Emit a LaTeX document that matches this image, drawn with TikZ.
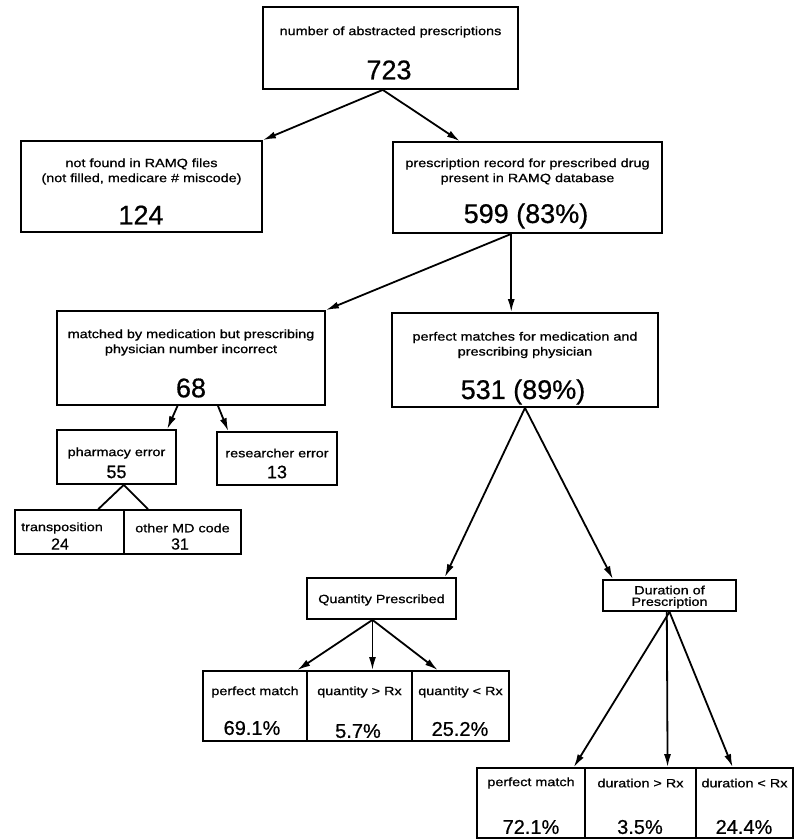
\documentclass[tikz,border=0pt]{standalone}
\usepackage{fontspec}
\usetikzlibrary{arrows.meta,calc}
\newfontfamily\lblfont[FakeStretch=1.2,FakeBold=0.8]{Liberation Sans}
\newfontfamily\numfont[FakeBold=0.6]{Liberation Sans}
\tikzset{
  box/.style={draw, line width=1.8pt, inner sep=0pt},
  lab/.style={font=\lblfont\fontsize{12}{15}\selectfont, inner sep=0pt, align=center},
  labtight/.style={font=\lblfont\fontsize{12}{11.5}\selectfont, inner sep=0pt, align=center},
  big/.style={font=\numfont\fontsize{27}{30}\selectfont, inner sep=0pt},
  mid/.style={font=\numfont\fontsize{18}{20}\selectfont, inner sep=0pt},
  small/.style={font=\numfont\fontsize{16}{18}\selectfont, inner sep=0pt},
  pct/.style={font=\numfont\fontsize{20}{22}\selectfont, inner sep=0pt},
  arr/.style={line width=1.8pt, -{Latex[length=13pt,width=7pt]}},
  ln/.style={line width=1.8pt}
}
\begin{document}
\begin{tikzpicture}[x=1pt,y=-1pt]
\useasboundingbox[fill=white] (0,0) rectangle (795,839);

% boxes
\node[box, minimum width=255, minimum height=82] (top) at (390.5,48) {};
\node[box, minimum width=241, minimum height=91] (nf) at (141.5,186.5) {};
\node[box, minimum width=269, minimum height=91] (pr) at (527.5,187.5) {};
\node[box, minimum width=268, minimum height=94] (mm) at (191,358) {};
\node[box, minimum width=266, minimum height=94] (pm) at (525,360) {};
\node[box, minimum width=119, minimum height=54] (ph) at (116.5,457) {};
\node[box, minimum width=120, minimum height=53] (re) at (277,458.5) {};
\node[box, minimum width=109, minimum height=44] (tr) at (69.5,532) {};
\node[box, minimum width=117, minimum height=44] (ot) at (182.5,532) {};
\node[box, minimum width=149, minimum height=41] (qp) at (381.5,598.5) {};
\node[box, minimum width=104, minimum height=70] (q1) at (255,706) {};
\node[box, minimum width=105, minimum height=70] (q2) at (359.5,706) {};
\node[box, minimum width=97, minimum height=70] (q3) at (460.5,706) {};
\node[box, minimum width=133, minimum height=31] (dp) at (669.5,595.5) {};
\node[box, minimum width=108, minimum height=70] (d1) at (531,803) {};
\node[box, minimum width=111, minimum height=70] (d2) at (640.5,803) {};
\node[box, minimum width=97, minimum height=70] (d3) at (744.5,803) {};

% texts
\node[lab] (topL) at (390.5,32) {number of abstracted prescriptions};
\node[big] (topN) at (389,70) {723};
\node[lab] (nfL) at (141.5,171.5) {not found in RAMQ files\\(not filled, medicare \# miscode)};
\node[big] (nfN) at (141,215) {124};
\node[lab] (prL) at (527.5,171.5) {prescription record for prescribed drug\\present in RAMQ database};
\node[big] (prN) at (526,216) {599 (83\%)};
\node[lab] (mmL) at (191,342.5) {matched by medication but prescribing\\physician number incorrect};
\node[big] (mmN) at (191,388) {68};
\node[lab] (pmL) at (525,345) {perfect matches for medication and\\prescribing physician};
\node[big] (pmN) at (523,392) {531 (89\%)};
\node[lab] (phL) at (116.5,453) {pharmacy error};
\node[mid] (phN) at (116.5,472) {55};
\node[lab] (reL) at (277,453) {researcher error};
\node[mid] (reN) at (277,472) {13};
\node[lab] (trL) at (62,528) {transposition};
\node[small] (trN) at (60,544) {24};
\node[lab] (otL) at (182.5,528) {other MD code};
\node[small] (otN) at (180,544) {31};
\node[lab] (qpL) at (381.5,600) {Quantity Prescribed};
\node[lab] (q1L) at (255,692) {perfect match};
\node[pct] (q1N) at (252,728) {69.1\%};
\node[lab] (q2L) at (359.5,692) {quantity > Rx};
\node[pct] (q2N) at (358,731) {5.7\%};
\node[lab] (q3L) at (460.5,692) {quantity < Rx};
\node[pct] (q3N) at (460,729) {25.2\%};
\node[labtight] (dpL) at (669.5,597) {Duration of\\Prescription};
\node[lab] (d1L) at (531,783) {perfect match};
\node[pct] (d1N) at (531,827) {72.1\%};
\node[lab] (d2L) at (640.5,783) {duration > Rx};
\node[pct] (d2N) at (640,827) {3.5\%};
\node[lab] (d3L) at (744.5,783) {duration < Rx};
\node[pct] (d3N) at (744,827) {24.4\%};

% connectors
\coordinate (topS) at ($(top.south west)!0.47!(top.south east)$);
\draw[arr] (topS) -- (nf.north east);
\draw[arr] (topS) -- ($(pr.north west)!0.25!(pr.north east)$);
\coordinate (prS) at ($(pr.south west)!0.44!(pr.south east)$);
\draw[arr] (prS) -- (mm.north east);
\draw[arr] (prS) -- (prS |- pm.north);
\draw[arr] ($(mm.south west)!0.45!(mm.south east)$) -- ($(ph.north west)!0.92!(ph.north east)$);
\draw[arr] ($(mm.south west)!0.60!(mm.south east)$) -- ($(re.north west)!0.10!(re.north east)$);
\coordinate (phS) at ($(ph.south west)!0.56!(ph.south east)$);
\draw[ln] ($(tr.north west)!0.76!(tr.north east)$) -- (phS) -- ($(ot.north west)!0.21!(ot.north east)$);
\coordinate (pmS) at (pm.south);
\draw[arr] (pmS) -- ($(qp.north west)!0.92!(qp.north east)$);
\draw[arr] (pmS) -- ($(dp.north west)!0.08!(dp.north east)$);
\coordinate (qpS) at ($(qp.south west)!0.44!(qp.south east)$);
\draw[arr] (qpS) -- ($(q1.north west)!0.9!(q1.north east)$);
\draw[arr] (qpS) -- (qpS |- q2.north);
\draw[arr] (qpS) -- ($(q3.north west)!0.27!(q3.north east)$);
\coordinate (dpS) at (dp.south);
\draw[arr] (dpS) -- ($(d1.north west)!0.89!(d1.north east)$);
\draw[arr] ($(dp.south west)!0.48!(dp.south east)$) -- ($(d2.north west)!0.74!(d2.north east)$);
\draw[arr] (dpS) -- ($(d3.north west)!0.38!(d3.north east)$);
\end{tikzpicture}
\end{document}
